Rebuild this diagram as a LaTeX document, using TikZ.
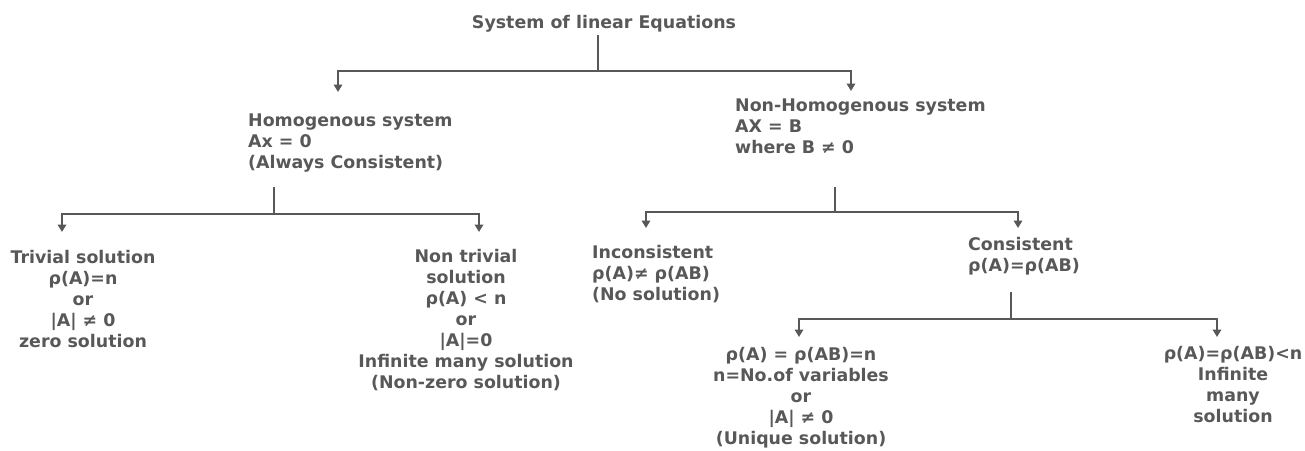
\documentclass[tikz,border=0pt]{standalone}
\usepackage{fontspec}
\setmainfont{DejaVu Sans}
\usetikzlibrary{arrows.meta}
\definecolor{txtgray}{RGB}{88, 88, 88}

\tikzset{
  lbl/.style={font=\bfseries\fontsize{17.4}{21}\selectfont, text=txtgray, inner sep=0pt},
  link/.style={draw=txtgray, line width=2pt},
  arr/.style={link, -{Triangle[width=8.5pt,length=7.5pt]}}
}

\begin{document}
\begin{tikzpicture}[x=1pt, y=-1pt]
  \useasboundingbox (0,0) rectangle (1305,450);

  % Root
  \node[lbl, anchor=north] (sle) at (604,15) {System of linear Equations};

  % Two kinds of system
  \node[lbl, anchor=north west, align=left] (homo) at (248,114)
    {Homogenous system\\Ax = 0\\(Always Consistent)};
  \node[lbl, anchor=north west, align=left] (nonhomo) at (735,99)
    {Non-Homogenous system\\AX = B\\where B ≠ 0};

  % Homogenous cases
  \node[lbl, anchor=north, align=center] (triv) at (83,250)
    {Trivial solution\\ρ(A)=n\\or\\|A| ≠ 0\\zero solution};
  \node[lbl, anchor=north, align=center] (nontriv) at (466,249)
    {Non trivial\\solution\\ρ(A) < n\\or\\|A|=0\\Infinite many solution\\(Non-zero solution)};

  % Non-homogenous cases
  \node[lbl, anchor=north west, align=left] (incons) at (592,245)
    {Inconsistent\\ρ(A)≠ ρ(AB)\\(No solution)};
  \node[lbl, anchor=north west, align=left] (cons) at (968,237)
    {Consistent\\ρ(A)=ρ(AB)};

  % Consistent cases
  \node[lbl, anchor=north, align=center] (uniq) at (801,347)
    {ρ(A) = ρ(AB)=n\\n=No.of variables\\or\\|A| ≠ 0\\(Unique solution)};
  \node[lbl, anchor=north, align=center] (infsol) at (1233,346)
    {ρ(A)=ρ(AB)<n\\Infinite\\many\\solution};

  % Forks
  \coordinate (f0) at (598,71);
  \coordinate (f1) at (274,214);
  \coordinate (f2) at (835,212);
  \coordinate (f3) at (1011,319);

  \draw[link] (f0) -- ++(0,-36);
  \draw[arr] (f0) -| ([xshift=90pt,yshift=22pt]homo.north west);
  \draw[arr] (f0) -| ([xshift=116pt,yshift=8pt]nonhomo.north west);

  \draw[link] (f1) -- ++(0,-27);
  \draw[arr] (f1) -| ([xshift=-21pt,yshift=18pt]triv.north);
  \draw[arr] (f1) -| ([xshift=13pt,yshift=17pt]nontriv.north);

  \draw[link] (f2) -- ++(0,-25);
  \draw[arr] (f2) -| ([xshift=54pt,yshift=17pt]incons.north west);
  \draw[arr] (f2) -| ([xshift=50pt,yshift=9pt]cons.north west);

  \draw[link] (f3) -- ++(0,-27);
  \draw[arr] (f3) -| ([xshift=-2pt,yshift=10pt]uniq.north);
  \draw[arr] (f3) -| ([xshift=-16pt,yshift=9pt]infsol.north);
\end{tikzpicture}
\end{document}
